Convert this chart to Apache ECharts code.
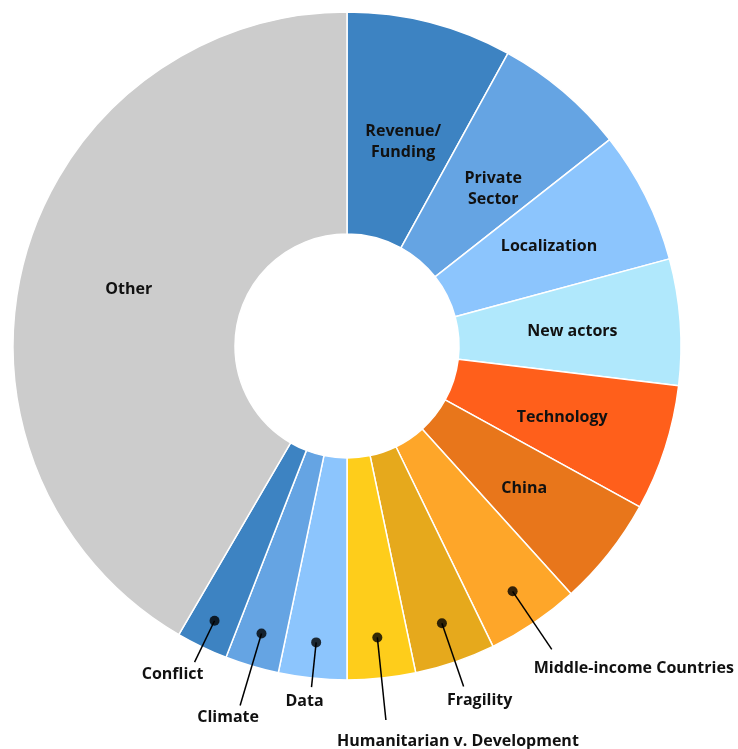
<!DOCTYPE html>
<html>
<head>
<meta charset="utf-8">
<style>
  html, body { margin: 0; padding: 0; background: #ffffff; }
  #chart { width: 738px; height: 749px; }
</style>
<script src="https://cdn.jsdelivr.net/npm/echarts@6/dist/echarts.min.js"></script>
</head>
<body>
<div id="chart"></div>
<script>
// Topics and their share of mentions (percent), clockwise from 12 o'clock
const topics = [
  'Revenue/\nFunding', 'Private\nSector', 'Localization', 'New actors', 'Technology', 'China',
  'Middle-income Countries', 'Fragility', 'Humanitarian v. Development', 'Data', 'Climate',
  'Conflict', 'Other'
];
const shares = [8.0, 6.4, 6.4, 6.1, 6.1, 5.3, 4.5, 3.9, 3.3, 3.3, 2.6, 2.5, 41.6];
const sliceColors = [
  '#3d83c2', '#65a4e3', '#8cc5fd', '#b0e8fc', '#ff5f1b', '#e8761b',
  '#fea629', '#e6a91c', '#fecd1b', '#8cc5fd', '#65a4e3', '#3d83c2', '#cccccc'
];

// Geometry of the ring (pixels); the polar helper uses 1 unit = 1 pixel
const CX = 347, CY = 346, R_IN = 112, R_OUT = 334, R_POLAR = 400;

// Callout placement for the narrow slices: dot radius, leader end radius, text offset
const callouts = {
  'Middle-income Countries':     { dot: 296, end: 366, dx: 82,  dy: 19 },
  'Fragility':                   { dot: 293, end: 360, dx: 16,  dy: 14 },
  'Humanitarian v. Development': { dot: 293, end: 376, dx: 72,  dy: 21 },
  'Data':                        { dot: 298, end: 343, dx: -7,  dy: 14 },
  'Climate':                     { dot: 300, end: 375, dx: -12, dy: 12 },
  'Conflict':                    { dot: 305, end: 351, dx: -22, dy: 12 }
};

const total = shares.reduce((a, b) => a + b, 0);
const midValue = [];
let acc = 0;
shares.forEach(v => { midValue.push(acc + v / 2); acc += v; });

function polarPoint(r, value) {
  const a = value / total * 2 * Math.PI;
  return [CX + r * Math.sin(a), CY - r * Math.cos(a)];
}

const labelFont = {
  color: '#111111', fontFamily: 'Open Sans', fontWeight: 'bold', fontSize: 16, lineHeight: 21
};

const pieData = topics.map((name, i) => ({
  name: name,
  value: shares[i],
  itemStyle: { color: sliceColors[i] },
  label: Object.assign({ show: true, position: callouts[name] ? 'outside' : 'inside' }, labelFont),
  labelLine: { show: false }
}));

// Dots and leader lines for the callout slices, placed at each slice's middle angle
const dotData = [];
const leaderSeries = [];
topics.forEach((name, i) => {
  const c = callouts[name];
  if (!c) return;
  dotData.push([c.dot, midValue[i]]);
  leaderSeries.push({
    type: 'line',
    coordinateSystem: 'polar',
    clip: false,
    silent: true,
    symbol: 'none',
    z: 4,
    lineStyle: { color: '#000000', width: 1.5 },
    data: [[c.dot, midValue[i]], [c.end, midValue[i]]]
  });
});

const chart = echarts.init(document.getElementById('chart'), null, { renderer: 'canvas' });
chart.setOption({
  animation: false,
  backgroundColor: '#ffffff',
  polar: { center: [CX, CY], radius: R_POLAR },
  angleAxis: {
    type: 'value', min: 0, max: total, startAngle: 90, clockwise: true,
    show: false
  },
  radiusAxis: { type: 'value', min: 0, max: R_POLAR, show: false },
  series: [
    {
      type: 'pie',
      center: [CX, CY],
      radius: [R_IN, R_OUT],
      startAngle: 90,
      clockwise: true,
      avoidLabelOverlap: false,
      itemStyle: { borderColor: '#ffffff', borderWidth: 1.5 },
      emphasis: { disabled: true },
      data: pieData,
      labelLayout: function (params) {
        const i = params.dataIndex;
        const name = topics[i];
        const c = callouts[name];
        if (!c) {
          // two-line labels sit with their first line on the slice centre
          return { dy: name.indexOf('\n') >= 0 ? 15 : 2 };
        }
        const p1 = polarPoint(c.end, midValue[i]);
        return {
          x: p1[0] + c.dx,
          y: p1[1] + c.dy,
          align: 'center',
          verticalAlign: 'middle'
        };
      }
    }
  ].concat(leaderSeries, [
    {
      type: 'scatter',
      coordinateSystem: 'polar',
      symbol: 'circle',
      symbolSize: 10,
      itemStyle: { color: '#000000' },
      silent: true,
      z: 5,
      data: dotData
    }
  ])
});
</script>
</body>
</html>
